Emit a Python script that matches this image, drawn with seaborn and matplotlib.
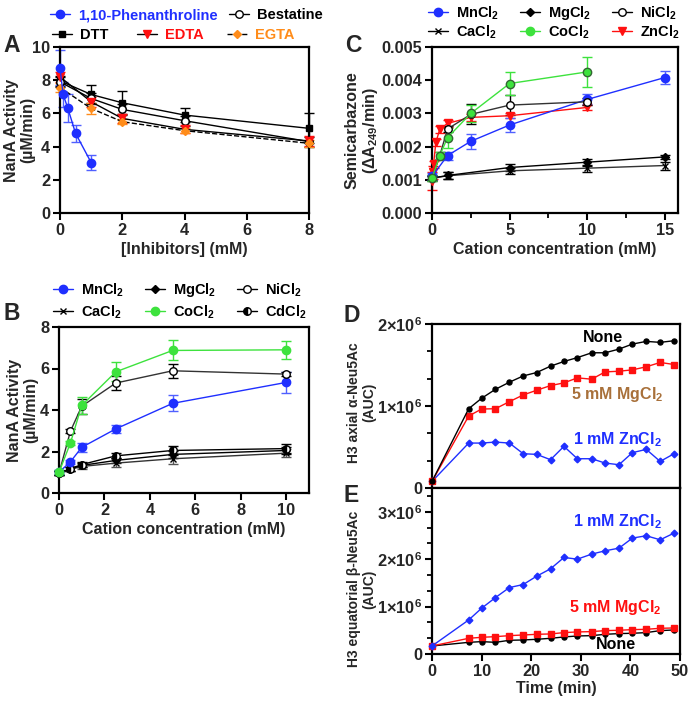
import numpy as np
import pandas as pd
import matplotlib
matplotlib.use('Agg')
import matplotlib.pyplot as plt
import seaborn as sns
from matplotlib.lines import Line2D
from matplotlib.ticker import MultipleLocator, FormatStrFormatter, FixedLocator, FixedFormatter

# style
sns.set_theme(style='ticks')
plt.rcParams['font.family'] = ['Liberation Sans', 'DejaVu Sans']
plt.rcParams['font.weight'] = 'bold'
plt.rcParams['axes.labelweight'] = 'bold'
plt.rcParams['mathtext.fontset'] = 'custom'
plt.rcParams['mathtext.rm'] = 'Liberation Sans:bold'
plt.rcParams['mathtext.bf'] = 'Liberation Sans:bold'
plt.rcParams['mathtext.default'] = 'bf'

BLUE = '#1f2fff'
RED = '#ff1010'
GREEN = '#3de23d'
ORANGE = '#ff8c1a'
BROWN = '#a8703a'

# ---- panel A: inhibitors ----
a_x_phen = [0, 0.1, 0.25, 0.5, 1]
a_phen = [8.74, 7.14, 6.32, 4.8, 3.04]
a_phen_err = [1.05, 0.75, 0.85, 0.5, 0.45]
a_x = [0, 1, 2, 4, 8]
a_dtt = [7.96, 7.14, 6.64, 5.9, 5.1]
a_dtt_err = [0.3, 0.55, 0.7, 0.4, 0.9]
a_best = [7.9, 6.9, 6.24, 5.56, 4.3]
a_best_err = [0.3, 0.3, 0.35, 0.3, 0.3]
a_edta = [8.2, 6.7, 5.7, 5.04, 4.34]
a_edta_err = [0.3, 0.3, 0.25, 0.25, 0.3]
a_egta = [7.56, 6.3, 5.5, 4.96, 4.2]
a_egta_err = [0.3, 0.35, 0.15, 0.15, 0.2]

# ---- panel B: cations, NanA activity ----
b_x = [0, 0.5, 1, 2.5, 5, 10]
b_mn = [1.0, 1.5, 2.2, 3.09, 4.32, 5.33]
b_mn_err = [0.1, 0.1, 0.2, 0.2, 0.38, 0.5]
b_mg = [0.95, 1.17, 1.33, 1.57, 1.86, 2.05]
b_mg_err = [0.1, 0.1, 0.1, 0.12, 0.15, 0.15]
b_ni = [0.95, 2.97, 4.18, 5.3, 5.89, 5.73]
b_ni_err = [0.1, 0.1, 0.35, 0.35, 0.35, 0.1]
b_ca = [0.95, 1.14, 1.28, 1.44, 1.65, 1.92]
b_ca_err = [0.1, 0.1, 0.12, 0.2, 0.25, 0.2]
b_co = [1.0, 2.4, 4.22, 5.84, 6.87, 6.9]
b_co_err = [0.1, 0.1, 0.4, 0.45, 0.48, 0.42]
b_cd = [0.95, 1.17, 1.37, 1.79, 2.05, 2.14]
b_cd_err = [0.1, 0.1, 0.1, 0.12, 0.2, 0.2]

# ---- panel C: semicarbazone ----
c_x_mn = [0, 1, 2.5, 5, 10, 15]
c_mn = [0.0011, 0.00173, 0.00216, 0.00265, 0.00342, 0.00408]
c_mn_err = [0.0001, 0.00012, 0.00022, 0.00022, 0.00015, 0.0002]
c_x_mgca = [0, 1, 5, 10, 15]
c_mg = [0.00105, 0.00113, 0.00137, 0.00153, 0.00169]
c_mg_err = [0.00005, 0.0001, 0.0001, 0.0001, 0.00005]
c_ca = [0.00105, 0.00112, 0.00127, 0.00135, 0.00143]
c_ca_err = [0.00005, 0.0001, 0.0001, 0.0001, 0.00012]
c_x_nico = [0, 0.5, 1, 2.5, 5, 10]
c_ni = [0.00105, 0.00173, 0.00253, 0.00297, 0.00325, 0.00335]
c_ni_err = [0.0001, 0.0001, 0.0001, 0.0003, 0.0003, 0.0001]
c_co = [0.00105, 0.00173, 0.00227, 0.003, 0.0039, 0.00425]
c_co_err = [0.0001, 0.0001, 0.0003, 0.00025, 0.00035, 0.00046]
c_x_zn = [0, 0.05, 0.1, 0.25, 0.5, 1, 2.5, 5, 10]
c_zn = [0.00095, 0.00122, 0.00147, 0.00213, 0.00252, 0.0027, 0.00288, 0.00293, 0.00318]
c_zn_err = [0.00027, 0.0002, 0.0001, 0.0001, 0.0001, 0.0001, 0.0001, 0.00008, 0.00008]

# ---- panels D/E: time course (x 1e6 AUC) ----
t_min = [0, 7.4, 10.0, 12.8, 15.6, 18.4, 21.1, 23.9, 26.6, 29.3, 32.2, 34.9, 37.7, 40.4, 43.2, 46.0, 48.8]
d_none = [0.08, 0.967, 1.094, 1.204, 1.29, 1.367, 1.408, 1.486, 1.543, 1.59, 1.649, 1.649, 1.694, 1.755, 1.788, 1.776, 1.796]
d_mg = [0.08, 0.878, 0.963, 0.967, 1.053, 1.135, 1.192, 1.249, 1.282, 1.343, 1.327, 1.416, 1.424, 1.441, 1.478, 1.531, 1.506]
d_zn = [0.08, 0.548, 0.548, 0.56, 0.548, 0.418, 0.41, 0.345, 0.508, 0.357, 0.357, 0.304, 0.284, 0.431, 0.471, 0.324, 0.418]
e_zn = [0.169, 0.718, 0.965, 1.19, 1.401, 1.465, 1.641, 1.796, 2.035, 2.0, 2.106, 2.176, 2.232, 2.444, 2.493, 2.408, 2.549]
e_mg = [0.169, 0.331, 0.352, 0.366, 0.387, 0.401, 0.415, 0.423, 0.451, 0.465, 0.472, 0.493, 0.5, 0.514, 0.521, 0.542, 0.549]
e_none = [0.169, 0.246, 0.261, 0.246, 0.289, 0.296, 0.31, 0.331, 0.359, 0.38, 0.387, 0.415, 0.43, 0.437, 0.451, 0.493, 0.507]

W, H = 690, 702
fig = plt.figure(figsize=(W / 100, H / 100), dpi=100)


def px_axes(l, r, t, b):
    return fig.add_axes([l / W, 1 - b / H, (r - l) / W, (b - t) / H])


axA = px_axes(60, 309, 47, 213)
axB = px_axes(59, 309, 327, 493)
axC = px_axes(432, 678, 47, 213)
axD = px_axes(432, 680, 324, 488)
axE = px_axes(432, 680, 488, 654)

# marker sizes (pt)
MS_DOT = 6.0
MS_OPEN = 5.4
MS_SQ = 4.0
MS_TRI = 6.0
MS_DIA = 3.8
MS_X = 5.0


def series(ax, x, y, err, color, marker, ms, lc=None, mfc=None, mec=None,
           ls='-', ecolor=None, mew=1.0, **kw):
    if err is not None:
        ax.errorbar(x, y, yerr=err, fmt='none', ecolor=ecolor or color,
                    elinewidth=1, capsize=3.5, capthick=1, clip_on=False, zorder=2)
    sns.lineplot(x=x, y=y, ax=ax, color=lc or color, linestyle=ls, linewidth=1,
                 marker=marker, markersize=ms, markerfacecolor=mfc or color,
                 markeredgecolor=mec or color, markeredgewidth=mew,
                 errorbar=None, clip_on=False, zorder=3, legend=False, **kw)


# A
series(axA, a_x, a_dtt, a_dtt_err, 'black', 's', MS_SQ)
series(axA, a_x, a_best, a_best_err, 'black', 'o', MS_OPEN, mfc='white', mew=1.1)
series(axA, a_x, a_edta, a_edta_err, RED, 'v', MS_TRI, lc='black')
series(axA, a_x, a_egta, a_egta_err, ORANGE, 'D', MS_DIA, lc='black', ls='--')
series(axA, a_x_phen, a_phen, a_phen_err, BLUE, 'o', MS_DOT, ecolor='#5060ff')

# B
series(axB, b_x, b_ca, b_ca_err, 'black', 'x', MS_X, lc='#333333', ecolor='#555555')
series(axB, b_x, b_mg, b_mg_err, 'black', 'D', MS_DIA)
series(axB, b_x, b_cd, b_cd_err, 'black', 'o', MS_OPEN, mfc='black', fillstyle='left',
       markerfacecoloralt='white')
series(axB, b_x, b_mn, b_mn_err, BLUE, 'o', MS_DOT, ecolor='#5060ff')
series(axB, b_x, b_ni, b_ni_err, 'black', 'o', MS_OPEN, mfc='white', lc='#333333')
series(axB, b_x, b_co, b_co_err, GREEN, 'o', MS_DOT)

# C
series(axC, c_x_mgca, c_ca, c_ca_err, 'black', 'x', MS_X, lc='#333333')
series(axC, c_x_mgca, c_mg, c_mg_err, 'black', 'D', MS_DIA)
series(axC, c_x_zn, c_zn, c_zn_err, RED, 'v', MS_TRI)
series(axC, c_x_mn, c_mn, c_mn_err, BLUE, 'o', MS_DOT, ecolor='#5060ff')
series(axC, c_x_nico, c_ni, c_ni_err, 'black', 'o', MS_OPEN, mfc='white', lc='#333333')
series(axC, c_x_nico, c_co, c_co_err, GREEN, 'o', MS_DOT, mec='#336633')

# D / E
d_scale = 1e6
series(axD, t_min, [v * d_scale for v in d_zn], None, BLUE, 'D', 3.4)
series(axD, t_min, [v * d_scale for v in d_mg], None, RED, 's', 4.4)
series(axD, t_min, [v * d_scale for v in d_none], None, 'black', 'o', 3.6)
series(axE, t_min, [v * d_scale for v in e_none], None, 'black', 'o', 3.6)
series(axE, t_min, [v * d_scale for v in e_mg], None, RED, 's', 4.4)
series(axE, t_min, [v * d_scale for v in e_zn], None, BLUE, 'D', 3.4)

TICK = 11.8
for ax in [axA, axB, axC, axD, axE]:
    for s in ax.spines.values():
        s.set_linewidth(1.6)
        s.set_color('black')
    ax.tick_params(which='major', length=5, width=1.5, labelsize=TICK, color='black', pad=2)
    ax.tick_params(which='minor', length=3.5, width=1.3, color='black')
    ax.set_xlabel('')
    ax.set_ylabel('')

axA.set_xlim(0, 8)
axA.set_ylim(0, 10)
axA.xaxis.set_major_locator(MultipleLocator(2))
axA.yaxis.set_major_locator(MultipleLocator(2))
axA.set_xlabel('[Inhibitors] (mM)', fontsize=11.5, labelpad=3)
axA.set_ylabel('NanA Activity\n(µM/min)', fontsize=11.5, linespacing=1.1)
axA.yaxis.set_label_coords(-0.10, 0.5)

axB.set_xlim(0, 11)
axB.set_ylim(0, 8)
axB.xaxis.set_major_locator(MultipleLocator(2))
axB.yaxis.set_major_locator(MultipleLocator(2))
axB.set_xlabel('Cation concentration (mM)', fontsize=11.5, labelpad=3)
axB.set_ylabel('NanA Activity\n(µM/min)', fontsize=11.5, linespacing=1.1)
axB.yaxis.set_label_coords(-0.084, 0.5)

axC.set_xlim(0, 15.85)
axC.set_ylim(0, 0.005)
axC.xaxis.set_major_locator(MultipleLocator(5))
axC.xaxis.set_minor_locator(MultipleLocator(2.5))
axC.yaxis.set_major_locator(MultipleLocator(0.001))
axC.yaxis.set_major_formatter(FormatStrFormatter('%.3f'))
axC.set_xlabel('Cation concentration (mM)', fontsize=11.5, labelpad=3)
axC.set_ylabel('Semicarbazone\n(ΔA$_{249}$/min)', fontsize=11.5, linespacing=1.1)
axC.yaxis.set_label_coords(-0.211, 0.5)

sci_labels = ['0', '1×10$^{6}$', '2×10$^{6}$', '3×10$^{6}$']
axD.set_xlim(0, 50)
axD.set_ylim(0, 2e6)
axD.yaxis.set_major_locator(FixedLocator([0, 1e6, 2e6]))
axD.yaxis.set_major_formatter(FixedFormatter(sci_labels[:3]))
axD.yaxis.set_minor_locator(MultipleLocator(1e6 / 3))
axD.tick_params(axis='x', bottom=False, labelbottom=False)
axD.set_ylabel('H3 axial α-Neu5Ac\n(AUC)', fontsize=10, linespacing=1.1)
axD.yaxis.set_label_coords(-0.225, 0.52)

axE.set_xlim(0, 50)
axE.set_ylim(0, 3.5e6)
axE.xaxis.set_major_locator(MultipleLocator(10))
axE.yaxis.set_major_locator(FixedLocator([0, 1e6, 2e6, 3e6]))
axE.yaxis.set_major_formatter(FixedFormatter(sci_labels))
axE.yaxis.set_minor_locator(MultipleLocator(1e6 / 3))
axE.set_xlabel('Time (min)', fontsize=11.5, labelpad=2)
axE.set_ylabel('H3 equatorial β-Neu5Ac\n(AUC)', fontsize=10, linespacing=1.1)
axE.yaxis.set_label_coords(-0.225, 0.39)

for ax in [axA, axB, axC, axD, axE]:
    for lab in ax.get_xticklabels() + ax.get_yticklabels():
        lab.set_fontweight('bold')

# annotations D/E
ann = dict(fontsize=11.5, fontweight='bold', ha='center', va='center')
axD.text(34.5, 1.84e6, 'None', color='black', **ann)
axD.text(37.3, 1.145e6, '5 mM MgCl$_2$', color=BROWN, **ann)
axD.text(37.3, 0.59e6, '1 mM ZnCl$_2$', color=BLUE, **ann)
axE.text(37.3, 2.79e6, '1 mM ZnCl$_2$', color=BLUE, **ann)
axE.text(37.0, 0.98e6, '5 mM MgCl$_2$', color=RED, **ann)
axE.text(37.0, 0.21e6, 'None', color='black', **ann)

# panel letters
for letter, (lx, ly) in {'A': (12, 45), 'B': (12, 313), 'C': (353, 45),
                         'D': (352, 315), 'E': (351, 496)}.items():
    fig.text(lx / W, 1 - ly / H, letter, fontsize=16.5, fontweight='bold',
             ha='center', va='center')

# legends: one entry each, placed by pixel
LEG = 10.5


def leg_item(handle, label, x, y, color='black'):
    lg = fig.legend([handle], [label], loc='center left',
                    bbox_to_anchor=(x / W, 1 - y / H), frameon=False,
                    fontsize=LEG, handlelength=1.4, handletextpad=0.55,
                    borderpad=0, borderaxespad=0)
    for t in lg.get_texts():
        t.set_color(color)
        t.set_fontweight('bold')


def h(color, marker, ms, lc=None, mfc=None, ls='-', **kw):
    return Line2D([], [], color=lc or color, marker=marker, markersize=ms,
                  markerfacecolor=mfc or color, markeredgecolor=color,
                  linestyle=ls, linewidth=1, **kw)


leg_item(h(BLUE, 'o', MS_DOT), '1,10-Phenanthroline', 50, 15, BLUE)
leg_item(h('black', 'o', MS_OPEN, mfc='white'), 'Bestatine', 229, 15)
leg_item(h('black', 's', MS_SQ), 'DTT', 52, 35)
leg_item(h(RED, 'v', MS_TRI, lc='black'), 'EDTA', 137, 35, RED)
leg_item(h(ORANGE, 'D', MS_DIA, lc='black', ls='--'), 'EGTA', 227, 35, ORANGE)

cd_handle = h('black', 'o', MS_OPEN, fillstyle='left', markerfacecoloralt='white')
for (x0, y1, y2, last, last_h) in [(53, 290, 312, 'CdCl$_2$', cd_handle),
                                  (428, 13, 32, 'ZnCl$_2$', h(RED, 'v', MS_TRI))]:
    xs = [x0, x0 + 92, x0 + 184]
    leg_item(h(BLUE, 'o', MS_DOT), 'MnCl$_2$', xs[0], y1)
    leg_item(h('black', 'D', MS_DIA), 'MgCl$_2$', xs[1], y1)
    leg_item(h('black', 'o', MS_OPEN, mfc='white'), 'NiCl$_2$', xs[2], y1)
    leg_item(h('black', 'x', MS_X), 'CaCl$_2$', xs[0], y2)
    leg_item(h(GREEN, 'o', MS_DOT), 'CoCl$_2$', xs[1], y2)
    leg_item(last_h, last, xs[2], y2)

fig.savefig('out.png', dpi=100)
